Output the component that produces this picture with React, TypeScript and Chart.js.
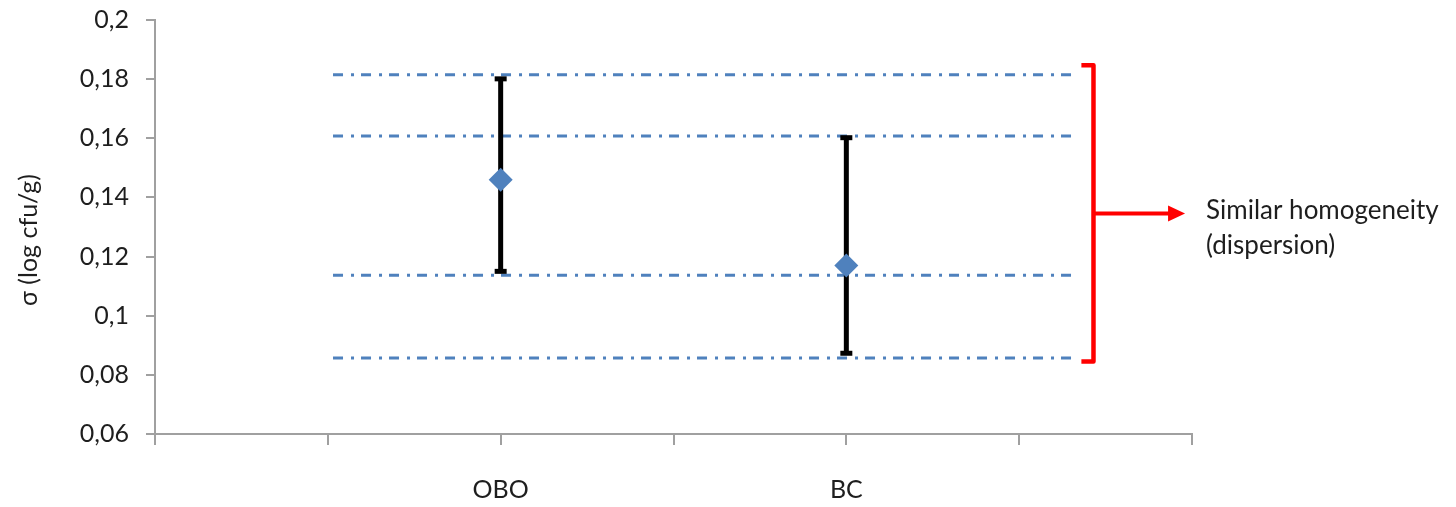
import React, { useEffect, useRef } from "react";
import { Chart, registerables } from "chart.js";

Chart.register(...registerables);

// ---- data ----
const CATEGORIES = ["OBO", "BC"];
const CATEGORY_X = [2, 4];
const MEANS = [0.146, 0.117];
const LOWS = [0.115, 0.0873];
const HIGHS = [0.1801, 0.1602];

const REF_LEVELS = [0.1815, 0.1608, 0.1137, 0.0857];
const REF_X_START = 1.03;
const REF_X_END = 5.31;

const Y_MIN = 0.06;
const Y_MAX = 0.2;
const Y_STEP = 0.02;
const X_MIN = 0;
const X_MAX = 6;

const BRACKET_X = 5.43;
const BRACKET_STUB_X = 5.36;
const BRACKET_TOP = 0.1847;
const BRACKET_BOTTOM = 0.0845;
const ARROW_TIP_X = 5.96;
const NOTE_LINES = ["Similar homogeneity", "(dispersion)"];
const Y_TITLE = "σ (log cfu/g)";

const FONT = "Lato, 'Open Sans', sans-serif";
const BLUE = "#4f81bd";
const AXIS = "#a0a0a0";
const TEXT = "#1e1e1e";

const annotationPlugin = {
  id: "annotations",
  afterDraw(chart: any) {
    const { ctx, scales } = chart;
    const x = scales.x;
    const y = scales.y;
    const bx = x.getPixelForValue(BRACKET_X);
    const sx = x.getPixelForValue(BRACKET_STUB_X);
    const top = y.getPixelForValue(BRACKET_TOP);
    const bot = y.getPixelForValue(BRACKET_BOTTOM);
    const mid = (top + bot) / 2;
    const tip = x.getPixelForValue(ARROW_TIP_X);
    ctx.save();
    ctx.strokeStyle = "#ff0000";
    ctx.fillStyle = "#ff0000";
    ctx.lineWidth = 4.5;
    ctx.lineJoin = "round";
    ctx.beginPath();
    ctx.moveTo(sx, top);
    ctx.lineTo(bx, top);
    ctx.lineTo(bx, bot);
    ctx.lineTo(sx, bot);
    ctx.stroke();
    // arrow shaft
    ctx.lineWidth = 4;
    ctx.beginPath();
    ctx.moveTo(bx, mid);
    ctx.lineTo(tip - 14, mid);
    ctx.stroke();
    ctx.beginPath();
    ctx.moveTo(tip, mid);
    ctx.lineTo(tip - 17, mid - 8);
    ctx.lineTo(tip - 17, mid + 8);
    ctx.closePath();
    ctx.fill();
    // note text
    ctx.fillStyle = TEXT;
    ctx.font = `26px ${FONT}`;
    ctx.textAlign = "left";
    ctx.textBaseline = "middle";
    ctx.fillText(NOTE_LINES[0], tip + 21, mid - 3);
    ctx.fillText(NOTE_LINES[1], tip + 21, mid + 32);
    // y title
    ctx.translate(29, 240);
    ctx.rotate(-Math.PI / 2);
    ctx.textAlign = "center";
    ctx.font = `25px ${FONT}`;
    ctx.fillText(Y_TITLE, 0, 0);
    ctx.restore();
  },
};

export default function App() {
  const ref = useRef<HTMLCanvasElement | null>(null);
  useEffect(() => {
    document.body.style.margin = "0";
    const canvas = ref.current!;
    const datasets: any[] = [];
    // means (drawn on top)
    datasets.push({
      label: "mean",
      data: CATEGORY_X.map((cx, i) => ({ x: cx, y: MEANS[i] })),
      showLine: false,
      pointStyle: "rectRot",
      pointRadius: 12,
      pointBackgroundColor: BLUE,
      pointBorderColor: BLUE,
      pointBorderWidth: 0,
      order: 0,
    });
    // error bars
    CATEGORY_X.forEach((cx, i) => {
      datasets.push({
        label: "err" + i,
        data: [
          { x: cx, y: LOWS[i] },
          { x: cx, y: HIGHS[i] },
        ],
        showLine: true,
        borderColor: "#000",
        borderWidth: 5,
        pointStyle: "line",
        pointRadius: 6,
        pointBorderWidth: 5,
        pointBorderColor: "#000",
        order: 1,
      });
    });
    // reference dash-dot lines
    REF_LEVELS.forEach((lv, i) => {
      datasets.push({
        label: "ref" + i,
        data: [
          { x: REF_X_START, y: lv },
          { x: REF_X_END, y: lv },
        ],
        showLine: true,
        borderColor: BLUE,
        borderWidth: 3,
        borderDash: [10, 8, 3, 7],
        pointRadius: 0,
        order: 2,
      });
    });

    const chart = new Chart(canvas, {
      type: "scatter",
      data: { datasets },
      options: {
        responsive: false,
        animation: false,
        layout: { padding: { left: 0, top: 20, right: 264, bottom: 0 } },
        plugins: { legend: { display: false }, tooltip: { enabled: false } },
        scales: {
          x: {
            type: "linear",
            min: X_MIN,
            max: X_MAX,
            afterFit: (s: any) => {
              s.height = 73;
              s.paddingLeft = 0;
              s.paddingRight = 0;
            },
            afterBuildTicks: (s: any) => {
              const t = [];
              for (let v = X_MIN; v <= X_MAX; v++) t.push({ value: v });
              s.ticks = t;
            },
            ticks: {
              autoSkip: false,
              maxRotation: 0,
              padding: 30,
              color: TEXT,
              font: { family: FONT, size: 25 },
              callback: (v: any) => {
                const idx = CATEGORY_X.indexOf(Number(v));
                return idx >= 0 ? CATEGORIES[idx] : "";
              },
            },
            grid: { display: true, drawOnChartArea: false, drawTicks: true, tickLength: 11, color: AXIS, lineWidth: 2 },
            border: { display: true, color: AXIS, width: 2 },
          },
          y: {
            type: "linear",
            min: Y_MIN,
            max: Y_MAX,
            afterFit: (s: any) => {
              s.width = 155;
              s.paddingTop = 0;
              s.paddingBottom = 0;
            },
            ticks: {
              stepSize: Y_STEP,
              padding: 17,
              color: TEXT,
              font: { family: FONT, size: 25 },
              callback: (v: any) => String(Number(Number(v).toFixed(2))).replace(".", ","),
            },
            grid: { display: true, drawOnChartArea: false, drawTicks: true, tickLength: 9, color: AXIS, lineWidth: 2 },
            border: { display: true, color: AXIS, width: 2 },
          },
        },
      },
      plugins: [annotationPlugin],
    });
    return () => chart.destroy();
  }, []);
  return <canvas ref={ref} width={1456} height={507} style={{ display: "block", width: 1456, height: 507 }} />;
}
